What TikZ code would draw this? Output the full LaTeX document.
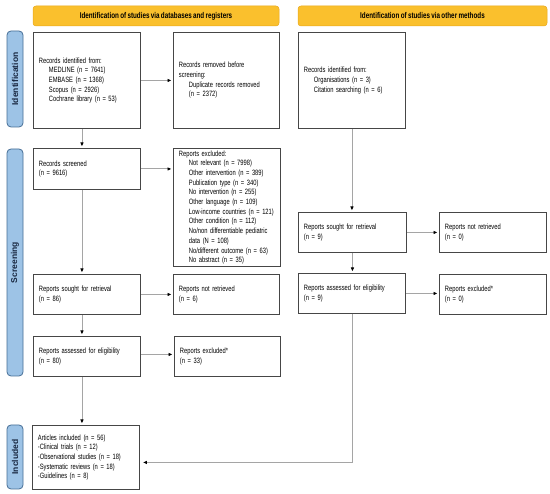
\documentclass[tikz,border=0pt]{standalone}
\usepackage{fontspec}
\setmainfont{Liberation Sans}[FakeStretch=0.75, WordSpace=0.75]
\newfontfamily\sidefont{Liberation Sans}
\usetikzlibrary{arrows.meta}
\definecolor{hdr}{RGB}{250,192,45}
\definecolor{hdrline}{RGB}{232,168,28}
\definecolor{side}{RGB}{157,195,230}
\definecolor{sideline}{RGB}{70,110,150}
\definecolor{sidetext}{RGB}{25,40,65}
\definecolor{boxline}{RGB}{70,70,70}
\definecolor{conn}{RGB}{165,165,165}
\begin{document}
\begin{tikzpicture}[x=1pt,y=-1pt,
  box/.style={draw=boxline, line width=0.9pt, rectangle, anchor=north west,
    inner xsep=5.5pt, inner ysep=0pt, align=left, text width=96pt,
    font=\fontsize{7.7}{9.7}\selectfont, text=black},
  hdrbox/.style={draw=hdrline, line width=0.5pt, fill=hdr, rounded corners=3pt,
    minimum height=20pt, inner sep=0pt, font=\fontsize{8.4}{9}\selectfont\bfseries},
  sidebox/.style={draw=sideline, line width=0.8pt, fill=side, rounded corners=4pt,
    rotate=90, minimum height=16pt, inner sep=0pt, text=sidetext,
    font=\sidefont\fontsize{8.5}{9}\selectfont\bfseries},
  arr/.style={draw=conn, line width=0.9pt, -{Latex[length=4pt,width=3.6pt,color=black]},
    shorten >=1.5pt}]
\fill[white] (0,0) rectangle (550,494);
\useasboundingbox (0,0) rectangle (550,494);

% headers
\node[hdrbox, minimum width=246pt] (h1) at (156,16) {Identification of studies via databases and registers};
\node[hdrbox, minimum width=249pt] (h2) at (422.5,16) {Identification of studies via other methods};

% side labels
\node[sidebox, minimum width=96pt] (s1) at (15,79) {Identification};
\node[sidebox, minimum width=227pt] (s2) at (15,262.5) {Screening};
\node[sidebox, minimum width=64pt] (s3) at (15,457) {Included};

% left column
\node[box, minimum height=96pt] (id1) at (33,32) {Records identified from:\\
\hspace*{10pt}MEDLINE (n = 7641)\\
\hspace*{10pt}EMBASE (n = 1368)\\
\hspace*{10pt}Scopus (n = 2926)\\
\hspace*{10pt}Cochrane library (n = 53)};
\node[box, text width=95pt, minimum height=96pt] (rem) at (173,32) {Records removed before\\
screening:\\
\hspace*{10pt}Duplicate records removed\\
\hspace*{10pt}(n = 2372)};
\node[box, minimum height=41pt] (scr) at (33,148) {Records screened\\(n = 9616)};
\node[box, minimum height=118pt] (exc) at (173,148) {Reports excluded:\\
\hspace*{10pt}\mbox{Not relevant (n = 7998)}\\
\hspace*{10pt}\mbox{Other intervention (n = 389)}\\
\hspace*{10pt}\mbox{Publication type (n = 340)}\\
\hspace*{10pt}\mbox{No intervention (n = 255)}\\
\hspace*{10pt}\mbox{Other language (n = 109)}\\
\hspace*{10pt}\mbox{Low-income countries (n = 121)}\\
\hspace*{10pt}\mbox{Other condition (n = 112)}\\
\hspace*{10pt}\mbox{No/non differentiable pediatric}\\
\hspace*{10pt}\mbox{data (N = 108)}\\
\hspace*{10pt}\mbox{No/different outcome (n = 63)}\\
\hspace*{10pt}\mbox{No abstract (n = 35)}};
\node[box, minimum height=40pt] (sought) at (33,274) {Reports sought for retrieval\\(n = 86)};
\node[box, text width=95pt, minimum height=40pt] (notret) at (173,274) {Reports not retrieved\\(n = 6)};
\node[box, minimum height=40pt] (assess) at (33,336) {Reports assessed for eligibility\\(n = 80)};
\node[box, text width=95pt, minimum height=40pt] (exc2) at (174,336) {Reports excluded*\\(n = 33)};
\node[box, minimum height=64pt] (incl) at (32,425) {Articles included (n = 56)\\
-Clinical trials (n = 12)\\
-Observational studies (n = 18)\\
-Systematic reviews (n = 18)\\
-Guidelines (n = 8)};

% right column
\node[box, minimum height=96pt] (oth) at (298,32) {Records identified from:\\
\hspace*{10pt}Organisations (n = 3)\\
\hspace*{10pt}Citation searching (n = 6)};
\node[box, text width=97pt, minimum height=40pt] (osought) at (298,212) {Reports sought for retrieval\\(n = 9)};
\node[box, minimum height=40pt] (onotret) at (439,212) {Reports not retrieved\\(n = 0)};
\node[box, minimum height=40pt] (oassess) at (298,273) {Reports assessed for eligibility\\(n = 9)};
\node[box, minimum height=40pt] (oexc) at (439,274) {Reports excluded*\\(n = 0)};

% connectors
\draw[arr] (id1.east) -- (rem.west);
\draw[arr] ([xshift=-5pt]id1.south) -- ([xshift=-5pt]scr.north);
\draw[arr] (scr.east) -- (scr.east -| exc.west);
\draw[arr] ([xshift=-5pt]scr.south) -- ([xshift=-5pt]sought.north);
\draw[arr] (sought.east) -- (notret.west);
\draw[arr] ([xshift=-5pt]sought.south) -- ([xshift=-5pt]assess.north);
\draw[arr] ([yshift=2pt]assess.east) -- ([yshift=2pt]exc2.west);
\draw[arr] ([xshift=-5pt]assess.south) -- ([xshift=-4pt]incl.north);
\draw[arr] (oth.south) -- (oth.south |- osought.north);
\draw[arr] (osought.east) -- (osought.east -| onotret.west);
\draw[arr] (osought.south) -- (osought.south |- oassess.north);
\draw[arr] (oassess.east) -- (oassess.east -| oexc.west);
\draw[arr, shorten >=3pt] (oassess.south) |- ([yshift=-5pt]incl.east);
\end{tikzpicture}
\end{document}
